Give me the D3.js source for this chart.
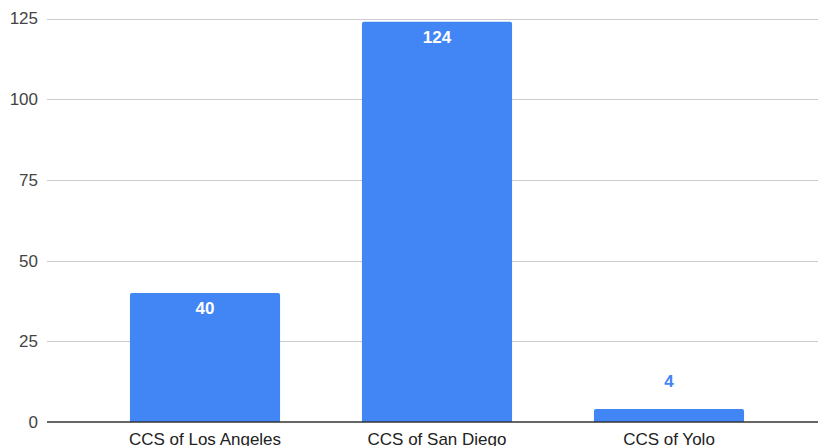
<!DOCTYPE html>
<html><head><meta charset="utf-8">
<script src="https://cdn.jsdelivr.net/npm/d3@7"></script>
<style>html,body{margin:0;padding:0;background:#fff;}svg{display:block;}</style>
</head><body>
<svg id="c" width="818" height="446"></svg>
<script>
const categories = ["CCS of Los Angeles", "CCS of San Diego", "CCS of Yolo"];
const values = [40, 124, 4];
const yTicks = [0, 25, 50, 75, 100, 125];

const svg = d3.select("#c");
const W = 818, H = 446;
const font = "Arial, 'Liberation Sans', sans-serif";
const x = d3.scaleBand().domain(categories).range([89, 785]).paddingInner(0.353).paddingOuter(0.1765);
const y = d3.scaleLinear().domain([0, 125]).range([422, 18.5]);
const left = 47;

// gridlines
svg.append("g").selectAll("line").data(yTicks.filter(d => d !== 0)).join("line")
  .attr("x1", left).attr("x2", W)
  .attr("y1", d => Math.round(y(d)) + 0.5).attr("y2", d => Math.round(y(d)) + 0.5)
  .attr("stroke", "#cccccc").attr("stroke-width", 1);

// y tick labels
svg.append("g").selectAll("text").data(yTicks).join("text")
  .attr("x", 38).attr("y", d => y(d)).attr("dy", "0.35em")
  .attr("text-anchor", "end").attr("font-family", font).attr("font-size", 17)
  .attr("fill", "#444").text(d => d);

// bars with slightly rounded top corners
const r = 2;
svg.append("g").selectAll("path").data(values).join("path")
  .attr("fill", "#4285f4")
  .attr("d", (d, i) => {
    const x0 = x(categories[i]), w = x.bandwidth(), yt = y(d), yb = y(0);
    return `M${x0},${yb}V${yt + r}Q${x0},${yt} ${x0 + r},${yt}H${x0 + w - r}Q${x0 + w},${yt} ${x0 + w},${yt + r}V${yb}Z`;
  });

// baseline
svg.append("line").attr("x1", left).attr("x2", W)
  .attr("y1", y(0)).attr("y2", y(0)).attr("stroke", "#333").attr("stroke-width", 1.5);

// value labels
svg.append("g").selectAll("text").data(values).join("text")
  .attr("x", (d, i) => x(categories[i]) + x.bandwidth() / 2)
  .attr("y", d => (y(0) - y(d) > 40) ? y(d) + 15 : y(d) - 28)
  .attr("dy", "0.35em")
  .attr("text-anchor", "middle").attr("font-family", font).attr("font-size", 17)
  .attr("font-weight", "bold")
  .attr("fill", d => (y(0) - y(d) > 40) ? "#ffffff" : "#4285f4")
  .text(d => d);

// category labels
svg.append("g").selectAll("text").data(categories).join("text")
  .attr("x", d => x(d) + x.bandwidth() / 2).attr("y", 445)
  .attr("text-anchor", "middle").attr("font-family", font).attr("font-size", 17)
  .attr("fill", "#222").text(d => d);
</script>
</body></html>
